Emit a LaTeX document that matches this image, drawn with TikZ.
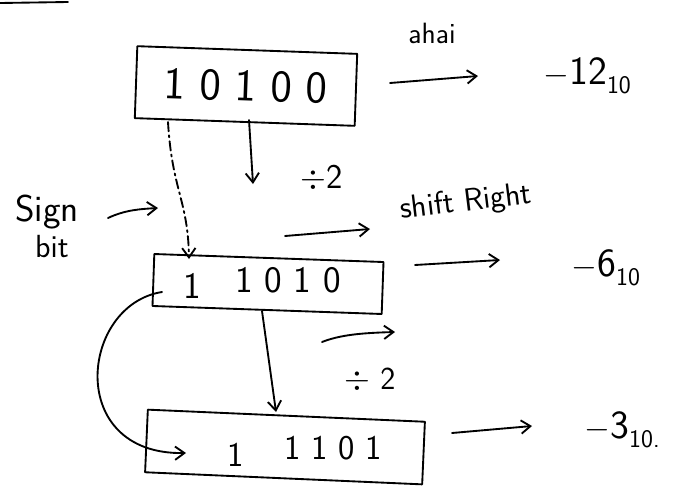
\documentclass[tikz,border=0pt]{standalone}
\usetikzlibrary{arrows.meta}
\newcommand{\subten}[1]{\raisebox{-0.5ex}{\fontsize{19}{19}\selectfont #1}}
\begin{document}
\begin{tikzpicture}[x=0.75pt,y=-0.75pt,
  ink/.style={line width=1.4pt,line cap=round,line join=round},
  arr/.style={ink,-{Straight Barb[length=7pt,width=10pt,line width=1.4pt]}},
  regbox/.style={draw,ink,inner sep=0pt,font=\sffamily},
  lbl/.style={font=\sffamily,inner sep=1pt}]
\useasboundingbox (0,0) rectangle (689,486);
% top-left stroke
\coordinate (tl1) at (0,3); \coordinate (tl2) at (68,2);
\draw[ink] (tl1) -- (tl2);
% boxes
\node[regbox,minimum width=165pt,minimum height=54pt,rotate=-2,font=\sffamily\fontsize{34}{34}\selectfont] (b1) at (246,86) {1 0 1 0 0};
\node[regbox,minimum width=172pt,minimum height=39pt,rotate=-2] (b2) at (268,284) {};
\node[font=\sffamily\fontsize{28}{28}\selectfont] (b2one) at (192,286) {1};
\node[font=\sffamily\fontsize{28}{28}\selectfont] (b2rest) at (288,280) {1 0 1 0};
\node[regbox,minimum width=208pt,minimum height=47pt,rotate=-2.5] (b3) at (285,447) {};
\node[font=\sffamily\fontsize{26}{26}\selectfont] (b3one) at (236,455) {1};
\node[font=\sffamily\fontsize{26}{26}\selectfont] (b3rest) at (333,448) {1 1 0 1};
% values
\node[lbl,font=\sffamily\fontsize{30}{30}\selectfont,anchor=west] (v1) at (542,76) {$-$12\subten{10}};
\node[lbl,font=\sffamily\fontsize{30}{30}\selectfont,anchor=west] (v2) at (570,268) {$-$6\subten{10}};
\node[lbl,font=\sffamily\fontsize{30}{30}\selectfont,anchor=west] (v3) at (583,430) {$-$3\subten{10.}};
\node[lbl,font=\sffamily\fontsize{22}{22}\selectfont] (note) at (432,33) {ahai};
% right arrows
\coordinate (a1s) at (390,83); \coordinate (a1e) at (478,76);
\draw[arr] (a1s) -- (a1e);
\coordinate (a2s) at (415,265); \coordinate (a2e) at (500,260);
\draw[arr] (a2s) -- (a2e);
\coordinate (a3s) at (452,433); \coordinate (a3e) at (532,426);
\draw[arr] (a3s) -- (a3e);
% sign bit dashed
\coordinate (d1) at (168,122); \coordinate (d2) at (189,259);
\draw[arr,dash pattern=on 7pt off 3pt on 1.5pt off 3pt] (d1) .. controls (172,190) and (188,200) .. (d2);
% divide arrows
\coordinate (v1s) at (249,120); \coordinate (v1e) at (253,184);
\draw[arr] (v1s) -- (v1e);
\node[lbl,font=\sffamily\fontsize{26}{26}\selectfont] (div1) at (322,178) {$\div$2};
\coordinate (v2s) at (262,311); \coordinate (v2e) at (276,412);
\draw[arr] (v2s) -- (v2e);
\node[lbl,font=\sffamily\fontsize{24}{24}\selectfont] (div2) at (370,380) {$\div$ 2};
% sign bit label
\node[lbl,font=\sffamily\fontsize{28}{28}\selectfont] (sign) at (47,212) {Sign};
\node[lbl,font=\sffamily\fontsize{24}{24}\selectfont] (bit) at (52,247) {bit};
\coordinate (sa) at (108,218); \coordinate (sb) at (158,208);
\draw[arr] (sa) .. controls (125,210) and (140,209) .. (sb);
% shift right
\node[lbl,font=\sffamily\fontsize{24}{24}\selectfont,rotate=7] (shift) at (466,203) {shift Right};
\coordinate (s1) at (285,236); \coordinate (s2) at (370,229);
\draw[arr] (s1) -- (s2);
\coordinate (s3) at (322,342); \coordinate (s4) at (395,332);
\draw[arr] (s3) .. controls (340,335) and (360,333) .. (s4);
% curved sign-bit copy
\coordinate (c1) at (162,292); \coordinate (c2) at (186,453);
\draw[arr] (c1) .. controls (80,305) and (65,455) .. (c2);
\end{tikzpicture}
\end{document}
